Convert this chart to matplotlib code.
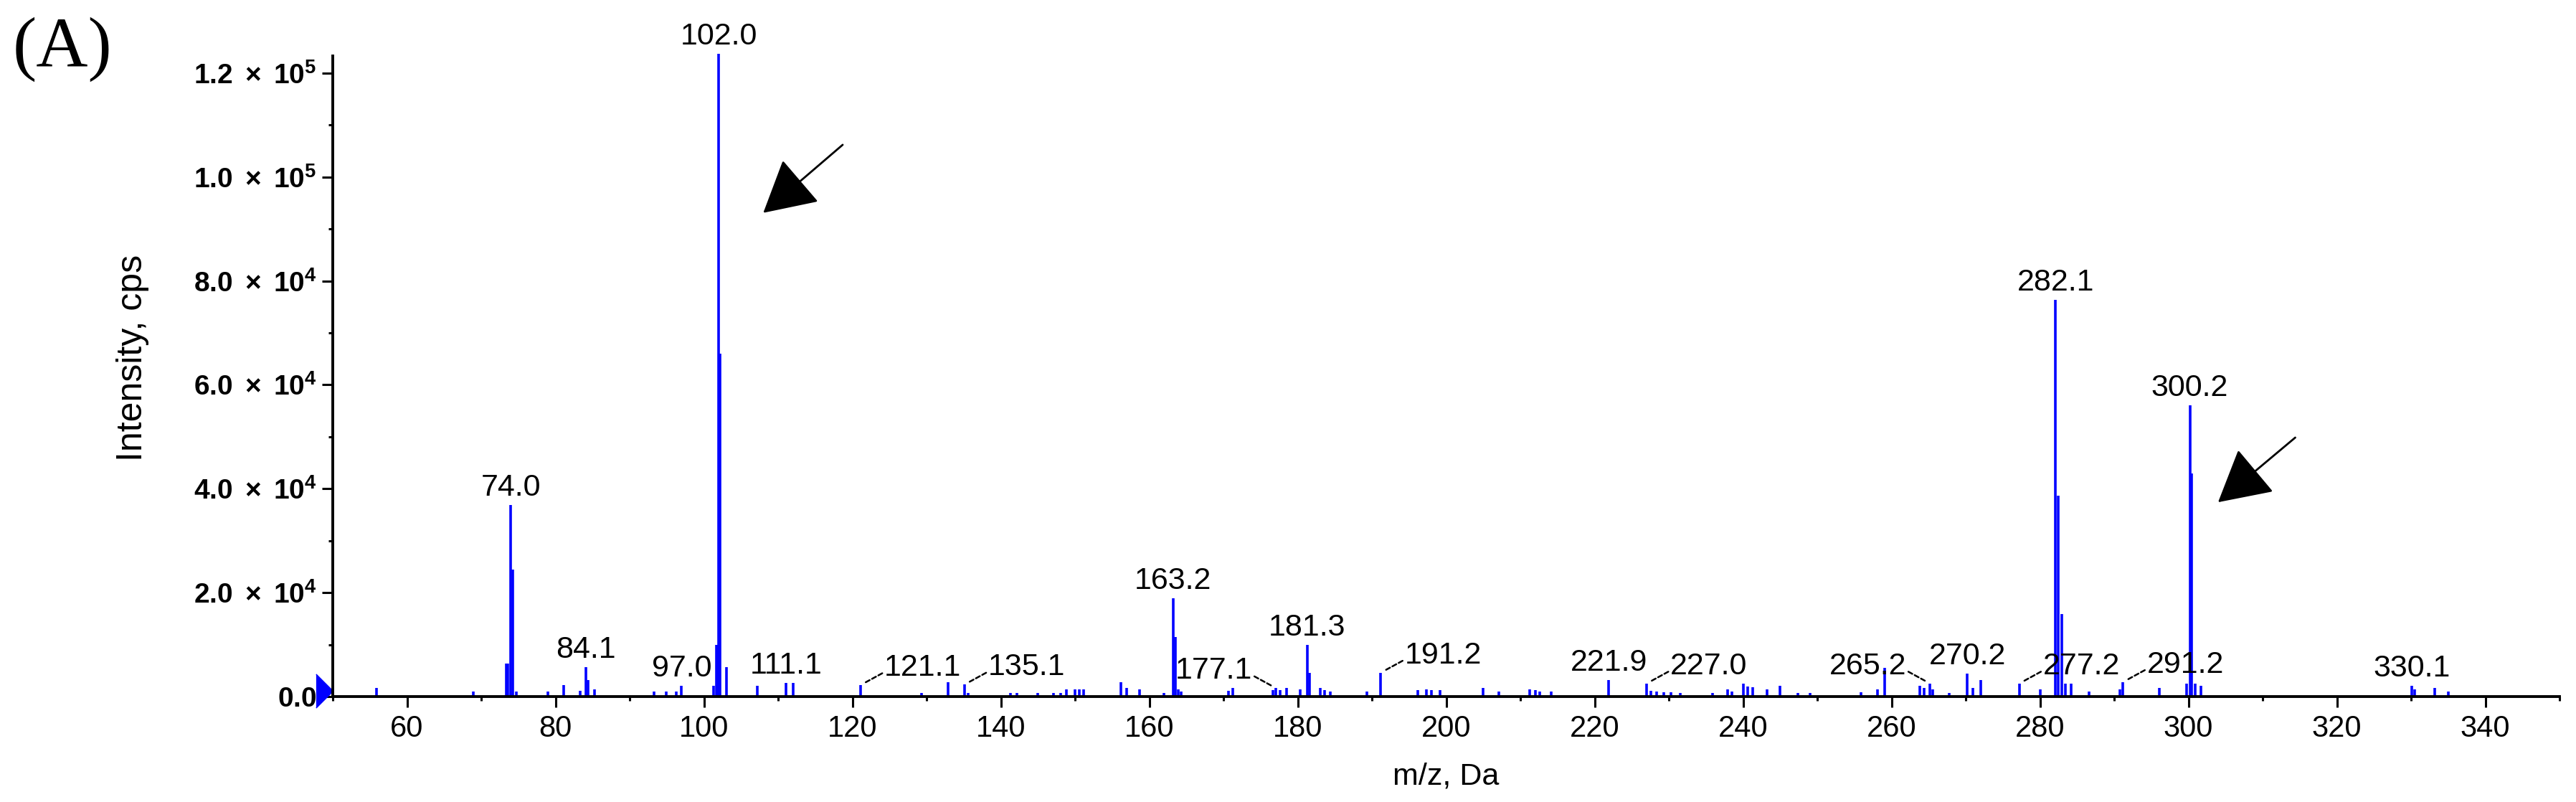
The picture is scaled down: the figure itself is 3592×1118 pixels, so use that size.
import numpy as np
import matplotlib.pyplot as plt
from matplotlib.ticker import MultipleLocator, FixedLocator, FixedFormatter
from matplotlib.patches import ArrowStyle

plt.rcParams['font.family'] = ['Liberation Sans', 'DejaVu Sans']
plt.rcParams['mathtext.fontset'] = 'custom'
plt.rcParams['mathtext.rm'] = 'Liberation Sans'
plt.rcParams['mathtext.it'] = 'Liberation Sans:italic'
plt.rcParams['mathtext.bf'] = 'Liberation Sans:bold'

# centroided peaks: m/z (Da) and intensity (cps)
mz = np.array([
    55.9, 68.9, 73.4, 73.6, 74.0, 74.25, 74.7, 79.0, 81.1, 83.3, 84.1, 84.4,
    85.3, 93.3, 94.9, 96.3, 97.0, 101.3, 101.7, 101.85, 102.0, 102.2, 103.0,
    107.2, 111.1, 112.0, 121.1, 129.3, 132.9, 135.1, 135.6, 141.3, 142.2,
    145.0, 147.1, 148.1, 148.8, 150.0, 150.6, 151.2, 156.2, 157.0, 158.7,
    162.0, 163.2, 163.5, 163.9, 164.3, 170.7, 171.3, 176.7, 177.1, 177.6,
    178.5, 180.3, 181.3, 181.6, 183.0, 183.6, 184.4, 189.3, 191.2, 196.2,
    197.3, 198.0, 199.2, 205.0, 207.1, 211.3, 212.0, 212.6, 214.2, 221.9,
    227.0, 227.6, 228.4, 229.3, 230.3, 231.5, 235.9, 237.9, 238.5, 240.0,
    240.6, 241.3, 243.2, 245.0, 247.4, 249.0, 255.9, 258.1, 259.1, 263.8,
    264.4, 265.2, 265.6, 267.8, 270.2, 271.0, 272.0, 277.2, 280.0, 282.1,
    282.5, 282.9, 283.4, 284.2, 286.6, 290.8, 291.2, 296.1, 299.8, 300.2,
    300.4, 300.9, 301.7, 330.1, 330.5, 333.2, 335.0])
intensity = np.array([
    1600, 900, 6400, 6400, 36900, 24400, 900, 900, 2200, 1100, 5700, 3200,
    1400, 900, 900, 1000, 2100, 2100, 9900, 9900, 123700, 66000, 5700,
    2100, 2600, 2600, 2200, 700, 2800, 2300, 700, 700, 700,
    700, 700, 700, 1400, 1400, 1400, 1400, 2800, 1600, 1400,
    700, 18900, 11500, 1400, 900, 1100, 1600, 1200, 1600, 1200,
    1600, 1400, 9900, 4600, 1600, 1200, 900, 900, 4600, 1200,
    1400, 1300, 1300, 1600, 900, 1400, 1200, 1000, 900, 3200,
    2500, 1100, 900, 800, 800, 700, 700, 1400, 900, 2500,
    1900, 1800, 1400, 2100, 700, 700, 800, 1400, 5500, 2100,
    1600, 2500, 1400, 700, 4400, 1600, 3200, 2500, 1400, 76400,
    38700, 15900, 2500, 2500, 900, 1400, 2800, 1600, 2500, 56100,
    43000, 2500, 2100, 2100, 1400, 1600, 900])

# annotated peaks; side: 0 = label above, 1 / -1 = label shifted right / left with a leader
label_mz = [74.0, 84.1, 97.0, 102.0, 111.1, 121.1, 135.1, 163.2, 177.1, 181.3,
            191.2, 221.9, 227.0, 265.2, 270.2, 277.2, 282.1, 291.2, 300.2, 330.1]
label_side = [0, 0, 0, 0, 0, 1, 1, 0, -1, 0, 1, 0, 1, -1, 0, 1, 0, 1, 0, 0]

x_ticks = list(range(60, 341, 20))
y_ticks = [0, 2e4, 4e4, 6e4, 8e4, 1e5, 1.2e5]
y_tick_labels = [r'$\mathbf{0.0}$',
                 r'$\mathbf{2.0\ \times\ 10^{4}}$', r'$\mathbf{4.0\ \times\ 10^{4}}$',
                 r'$\mathbf{6.0\ \times\ 10^{4}}$', r'$\mathbf{8.0\ \times\ 10^{4}}$',
                 r'$\mathbf{1.0\ \times\ 10^{5}}$', r'$\mathbf{1.2\ \times\ 10^{5}}$']

W, H = 3592, 1118
fig = plt.figure(figsize=(W / 100, H / 100), dpi=100)
ax = fig.add_axes([464 / W, 1 - 971 / H, 3105 / W, 893 / H])

ax.vlines(mz, 0, intensity, color='#0000ff', lw=2.6, clip_on=False)

ax.set_xlim(50, 350)
ax.set_ylim(0, 123300)

for s in ['top', 'right']:
    ax.spines[s].set_visible(False)
for s in ['left', 'bottom']:
    ax.spines[s].set_linewidth(2.8)

ax.xaxis.set_major_locator(FixedLocator(x_ticks))
ax.xaxis.set_minor_locator(MultipleLocator(10))
ax.yaxis.set_major_locator(FixedLocator(y_ticks))
ax.yaxis.set_major_formatter(FixedFormatter(y_tick_labels))
ax.yaxis.set_minor_locator(MultipleLocator(1e4))
ax.tick_params(axis='x', which='major', length=11, width=2.2, pad=7, labelsize=30)
ax.tick_params(axis='x', which='minor', length=4, width=2.2)
ax.tick_params(axis='y', which='major', length=11, width=2.2, pad=5, labelsize=28)
ax.tick_params(axis='y', which='minor', length=4.5, width=2.2)

ax.set_xlabel('m/z, Da', fontsize=31)
ax.xaxis.set_label_coords(0.5, -0.103)
ax.set_ylabel('Intensity, cps', fontsize=36)
ax.yaxis.set_label_coords(-0.0825, 0.5286)

# peak labels
for m, side in zip(label_mz, label_side):
    h = intensity[np.argmin(np.abs(mz - m))]
    if side == 0:
        ax.annotate(f'{m:.1f}', xy=(m, h), xytext=(0, 9.4), textcoords='offset points',
                    ha='center', va='baseline', fontsize=31, annotation_clip=False)
    else:
        ax.annotate(f'{m:.1f}', xy=(m, h), xytext=(62.5 * side, 9.4),
                    textcoords='offset points', ha='center', va='baseline', fontsize=31,
                    annotation_clip=False,
                    arrowprops=dict(arrowstyle='-', color='black', lw=1.8,
                                    linestyle=(0, (2.5, 1.5)),
                                    relpos=(0 if side > 0 else 1, 0.35),
                                    shrinkA=0, shrinkB=6))

# marker at the origin of the intensity axis
ax.plot([50], [1100], marker=[(-1, 1), (0, 0), (-1, -1)], markersize=34,
        color='#0000ff', clip_on=False)

# arrows pointing at the two marked peaks
head = ArrowStyle('-|>', head_length=1.0, head_width=0.55)
ax.annotate('', xy=(108.0, 93100), xytext=(118.7, 106200),
            arrowprops=dict(arrowstyle=head, mutation_scale=46, color='black',
                            lw=2, shrinkA=0, shrinkB=0))
ax.annotate('', xy=(304.0, 37400), xytext=(314.4, 49850),
            arrowprops=dict(arrowstyle=head, mutation_scale=46, color='black',
                            lw=2, shrinkA=0, shrinkB=0))

fig.text(18 / W, 1 - 24 / H, '(A)', family='Liberation Serif', fontsize=72,
         ha='left', va='top')

fig.savefig('out.png', dpi=100)
